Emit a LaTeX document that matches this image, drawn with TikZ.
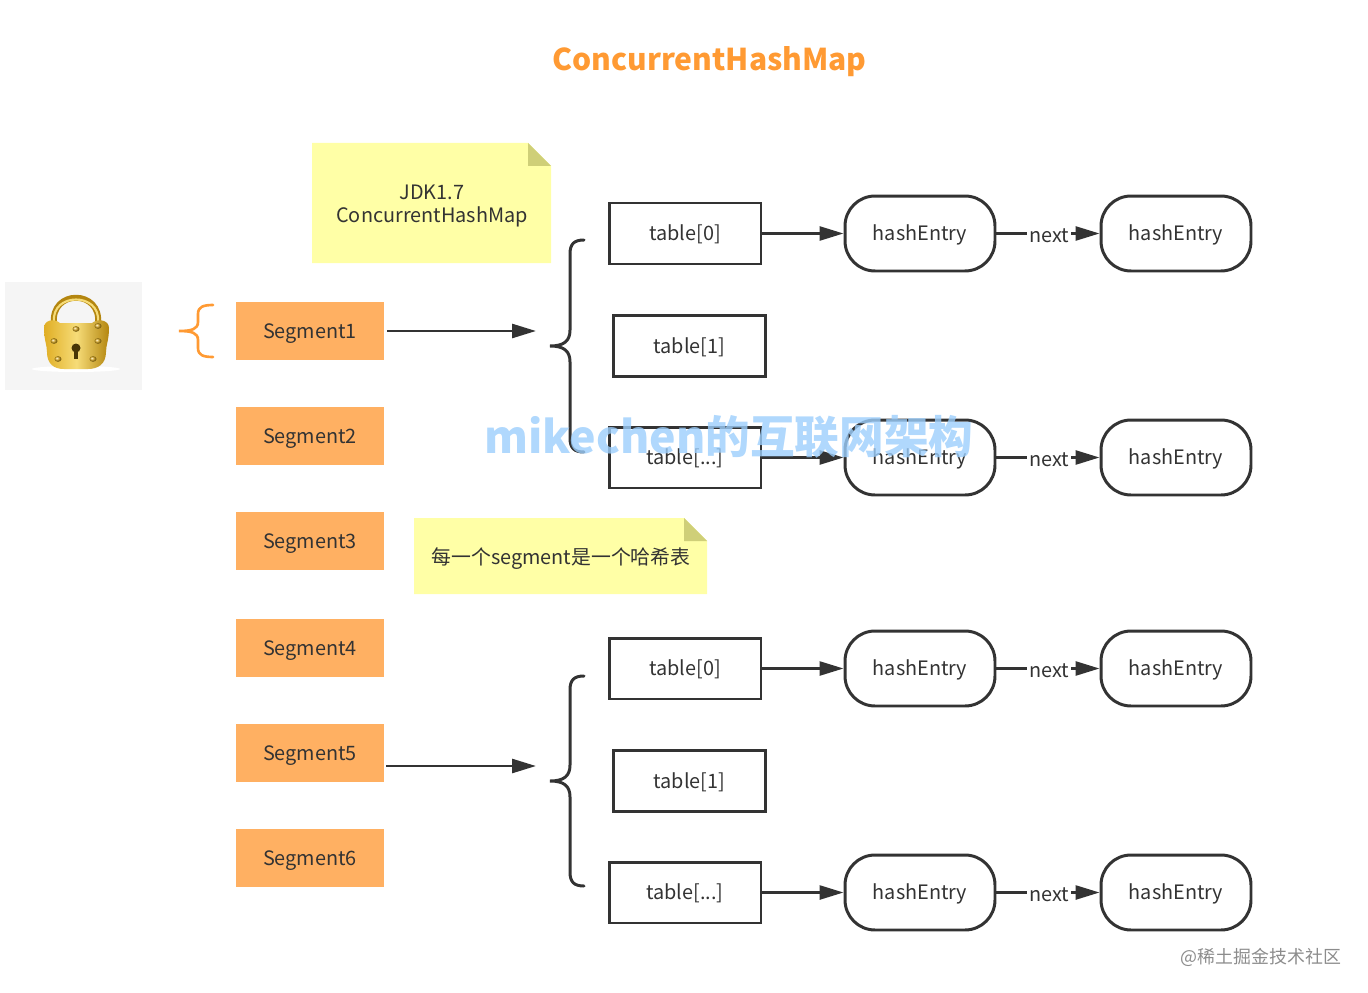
\documentclass[tikz,border=0pt]{standalone}
\usepackage{fontspec}
\setmainfont{Noto Sans CJK SC}
\usepackage{xcolor}
\usetikzlibrary{arrows.meta,positioning}

\definecolor{inkgray}{HTML}{333333}
\definecolor{segorange}{HTML}{FFB062}
\definecolor{titleorange}{HTML}{FF9A33}
\definecolor{noteyellow}{HTML}{FFFFA6}
\definecolor{notefold}{HTML}{CFCF78}
\definecolor{markblue}{HTML}{9CCEFC}
\definecolor{lockgold}{HTML}{E0AE24}
\definecolor{lockdark}{HTML}{B4860F}
\definecolor{lockpale}{HTML}{F6DC78}

\tikzset{
    plaintext/.style={text=inkgray, text height=1.05em, text depth=0.2em, font=\fontsize{11.3}{14}\selectfont},
    segment/.style={plaintext, rectangle, fill=segorange, minimum width=2.96cm, minimum height=1.16cm, inner sep=0pt},
    tablebox/.style={plaintext, rectangle, draw=inkgray, line width=1.7pt, minimum width=3.04cm, minimum height=1.22cm, inner sep=0pt},
    entry/.style={plaintext, rectangle, rounded corners=0.6cm, draw=inkgray, line width=1.7pt, minimum width=3cm, minimum height=1.5cm, inner sep=0pt},
    notelabel/.style={text=inkgray, align=center, inner sep=0pt, font=\fontsize{11.3}{13.6}\selectfont},
    nextlabel/.style={plaintext, fill=white, inner sep=1pt},
    link/.style={draw=inkgray, line width=1.5pt, -{Triangle[length=0.48cm, width=0.28cm]}},
    curly/.style={draw=inkgray, line width=1.7pt, line cap=round},
    rivet/.style={ball color=lockgold}
}

\begin{document}
\begin{tikzpicture}[x=0.02cm, y=-0.02cm]
    \useasboundingbox (0, 0) rectangle (1368, 993);

    % Title
    \node[text=titleorange, font=\fontsize{17.1}{20}\selectfont\bfseries] (title) at (709.5, 62) {ConcurrentHashMap};

    % Lock
    \fill[black!4] (5, 282) rectangle (142, 390);
    \fill[white] (76, 369) ellipse (44 and 3);
    \draw[lockdark, line width=3.4pt] (54, 324) .. controls (50, 289) and (102, 289) .. (98, 324);
    \draw[lockpale, line width=1.2pt] (54, 322) .. controls (51, 292) and (101, 292) .. (98, 322);
    \path[left color=lockgold, right color=lockdark, middle color=lockpale]
        (44, 328) .. controls (44, 320) and (54, 318) .. (60, 323)
        -- (92, 323) .. controls (98, 318) and (109, 320) .. (109, 328)
        .. controls (109, 340) and (106, 345) .. (106, 352)
        .. controls (106, 364) and (98, 369) .. (88, 369)
        -- (64, 369) .. controls (54, 369) and (47, 364) .. (47, 352)
        .. controls (47, 345) and (44, 340) .. (44, 328) -- cycle;
    \foreach \rx/\ry in {76/329, 54/341, 98/341, 98/326, 58/359, 93/359}
        \shade[rivet] (\rx, \ry) ellipse (3.5 and 2.8);
    \fill[lockdark!40!black] (76, 348) circle (4.5);
    \fill[lockdark!40!black] (74, 349) rectangle (78, 359);

    % Notes
    \fill[noteyellow] (312, 143) -- (528, 143) -- (551, 166) -- (551, 263) -- (312, 263) -- cycle;
    \fill[notefold] (528, 143) -- (551, 166) -- (528, 166) -- cycle;
    \node[notelabel] (note1) at (432, 206) {JDK1.7\\ConcurrentHashMap};
    \fill[noteyellow] (414, 518) -- (684, 518) -- (707, 541) -- (707, 594) -- (414, 594) -- cycle;
    \fill[notefold] (684, 518) -- (707, 541) -- (684, 541) -- cycle;
    \node[notelabel] (note2) at (561, 559) {每一个segment是一个哈希表};

    % Segments
    \node[segment] (segment1) at (310, 331) {Segment1};
    \node[segment] (segment2) at (310, 436) {Segment2};
    \node[segment] (segment3) at (310, 541) {Segment3};
    \node[segment] (segment4) at (310, 648) {Segment4};
    \node[segment] (segment5) at (310, 753) {Segment5};
    \node[segment] (segment6) at (310, 858) {Segment6};

    % Braces
    \draw[titleorange, line width=1.5pt, line cap=round] (213, 305) .. controls (203, 305) and (198, 307) .. (198, 314) -- (198, 322) .. controls (198, 329) and (192, 331) .. (179, 331) .. controls (192, 331) and (198, 333) .. (198, 340) -- (198, 348) .. controls (198, 355) and (203, 357) .. (213, 357);
    \draw[curly] (584, 240) .. controls (574, 240) and (570, 244) .. (570, 254) -- (570, 330) .. controls (570, 341) and (564, 346) .. (550, 346) .. controls (564, 346) and (570, 351) .. (570, 362) -- (570, 438) .. controls (570, 448) and (574, 452) .. (584, 452);
    \draw[curly] (584, 676) .. controls (574, 676) and (570, 680) .. (570, 690) -- (570, 765) .. controls (570, 776) and (564, 781) .. (550, 781) .. controls (564, 781) and (570, 786) .. (570, 797) -- (570, 872) .. controls (570, 882) and (574, 886) .. (584, 886);
    \coordinate (brace1) at (536, 331);
    \coordinate (brace2) at (536, 766);
    \coordinate (seg1out) at (387, 331);
    \coordinate (seg5out) at (386, 766);
    \draw[link] (seg1out) -- (brace1);
    \draw[link] (seg5out) -- (brace2);

    % Upper tables
    \node[tablebox] (table10) at (685, 233.5) {table[0]};
    \node[tablebox] (table11) at (689.5, 346) {table[1]};
    \node[tablebox] (table12) at (685, 457.5) {table[...]};
    \node[entry] (entry11) at (920, 233.5) {hashEntry};
    \node[entry] (entry12) at (1176, 233.5) {hashEntry};
    \node[entry] (entry13) at (920, 457.5) {hashEntry};
    \node[entry] (entry14) at (1176, 457.5) {hashEntry};

    % Lower tables
    \node[tablebox] (table20) at (685, 668.5) {table[0]};
    \node[tablebox] (table21) at (689.5, 781) {table[1]};
    \node[tablebox] (table22) at (685, 892.5) {table[...]};
    \node[entry] (entry21) at (920, 668.5) {hashEntry};
    \node[entry] (entry22) at (1176, 668.5) {hashEntry};
    \node[entry] (entry23) at (920, 892.5) {hashEntry};
    \node[entry] (entry24) at (1176, 892.5) {hashEntry};

    % Arrows
    \draw[link] (table10.east) -- (entry11.west);
    \draw[link] (table12.east) -- (entry13.west);
    \draw[link] (table20.east) -- (entry21.west);
    \draw[link] (table22.east) -- (entry23.west);
    \draw[link] (entry11.east) -- (entry12.west) node[nextlabel, pos=0.51, yshift=-0.04cm] (next1) {next};
    \draw[link] (entry13.east) -- (entry14.west) node[nextlabel, pos=0.51, yshift=-0.04cm] (next2) {next};
    \draw[link] (entry21.east) -- (entry22.west) node[nextlabel, pos=0.51, yshift=-0.04cm] (next3) {next};
    \draw[link] (entry23.east) -- (entry24.west) node[nextlabel, pos=0.51, yshift=-0.04cm] (next4) {next};

    % Marks
    \node[text=markblue, opacity=0.8, font=\fontsize{25.4}{28}\selectfont\bfseries] (mark) at (729, 437) {mikechen的互联网架构};
    \node[text=black!45, font=\fontsize{10.2}{12}\selectfont] (source) at (1261, 957) {@稀土掘金技术社区};
\end{tikzpicture}
\end{document}
